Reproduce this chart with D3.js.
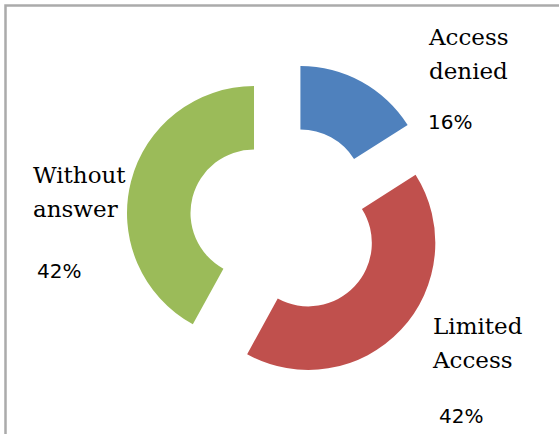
<!DOCTYPE html>
<html>
<head>
<meta charset="utf-8">
<script src="https://cdn.jsdelivr.net/npm/d3@7"></script>
<style>
  html, body { margin: 0; padding: 0; background: #fff; }
  svg { display: block; }
</style>
</head>
<body>
<svg id="chart" width="559" height="434"></svg>
<script>
// ---- data ----
const categories = ["Access denied", "Limited Access", "Without answer"];
const labelLines = [["Access", "denied"], ["Limited", "Access"], ["Without", "answer"]];
const values = [16, 42, 42];
const percentLabels = ["16%", "42%", "42%"];
const colors = ["#4F81BD", "#C0504D", "#9BBB59"];

// ---- layout ----
const W = 559, H = 434;
const cx = 285, cy = 221;
const outerR = 127, innerR = 63.5, explode = 32;
// label anchor positions (name block left/top baseline, percent baseline)
const labelPos = [
  { x: 429, y: 45, px: 428, py: 129 },
  { x: 433, y: 334, px: 439, py: 423 },
  { x: 33, y: 183, px: 37, py: 278 }
];

const svg = d3.select("#chart");

// chart border (extends beyond the visible window on the right/bottom)
svg.append("rect")
  .attr("x", 5.5).attr("y", 5.5)
  .attr("width", 600).attr("height", 600)
  .attr("fill", "none")
  .attr("stroke", "#ababab")
  .attr("stroke-width", 2.5);

const pie = d3.pie().sort(null).startAngle(0).endAngle(2 * Math.PI)(values);
const arc = d3.arc().innerRadius(innerR).outerRadius(outerR);

const g = svg.append("g").attr("transform", `translate(${cx},${cy})`);

g.selectAll("path.slice")
  .data(pie)
  .join("path")
  .attr("class", "slice")
  .attr("fill", (d, i) => colors[i])
  .attr("transform", d => {
    const a = (d.startAngle + d.endAngle) / 2;
    return `translate(${explode * Math.sin(a)},${-explode * Math.cos(a)})`;
  })
  .attr("d", arc);

// labels
const lg = svg.append("g");
categories.forEach((c, i) => {
  const p = labelPos[i];
  const t = lg.append("text")
    .attr("font-family", "'DejaVu Serif', serif")
    .attr("font-size", 23)
    .attr("fill", "#000");
  labelLines[i].forEach((line, k) => {
    t.append("tspan").attr("x", p.x).attr("y", p.y + k * 34).text(line);
  });
  lg.append("text")
    .attr("x", p.px).attr("y", p.py)
    .attr("font-family", "'DejaVu Sans', sans-serif")
    .attr("font-size", 20)
    .attr("fill", "#000")
    .text(percentLabels[i]);
});
</script>
</body>
</html>
